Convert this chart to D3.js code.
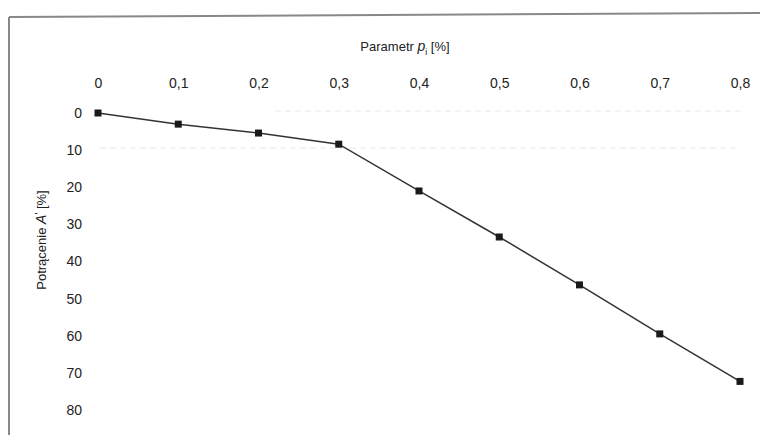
<!DOCTYPE html>
<html>
<head>
<meta charset="utf-8">
<script src="https://cdn.jsdelivr.net/npm/d3@7"></script>
<style>
	body { margin: 0; background: #fff; }
	text { font-family: "Liberation Sans", Arial, sans-serif; fill: #222; }
</style>
</head>
<body>
<svg id="chart"></svg>
<script>
	// values
	var param = [0, 0.1, 0.2, 0.3, 0.4, 0.5, 0.6, 0.7, 0.8];
	var potracenie = [0, 3.0, 5.4, 8.4, 21.0, 33.4, 46.3, 59.5, 72.3];
	var xTicks = [0, 0.1, 0.2, 0.3, 0.4, 0.5, 0.6, 0.7, 0.8];
	var yTicks = [0, 10, 20, 30, 40, 50, 60, 70, 80];

	var width = 760, height = 435;

	var svg = d3.select("#chart")
		.attr("width", width)
		.attr("height", height);

	var x = d3.scaleLinear().domain([0, 0.8]).range([98, 740]);
	var y = d3.scaleLinear().domain([0, 80]).range([113, 410]);

	// frame (scanned page border)
	svg.append("line")
		.attr("x1", 9).attr("y1", 17).attr("x2", 760).attr("y2", 13)
		.attr("stroke", "#888").attr("stroke-width", 2);
	svg.append("line")
		.attr("x1", 9).attr("y1", 17).attr("x2", 9).attr("y2", 435)
		.attr("stroke", "#888").attr("stroke-width", 2);

	// faint grid
	svg.append("g").selectAll("line")
		.data(yTicks.slice(0, 2))
		.enter().append("line")
		.attr("x1", function(d, i) { return i == 0 ? 275 : 100; })
		.attr("x2", 740)
		.attr("y1", function(d) { return y(d) - 2; })
		.attr("y2", function(d) { return y(d) - 2; })
		.attr("stroke", "#e8e8e8")
		.attr("stroke-dasharray", "6,4");

	// x axis on top, labels only
	var xAxis = d3.axisTop(x)
		.tickValues(xTicks)
		.tickSize(0)
		.tickPadding(0)
		.tickFormat(function(d) { return d3.format(".1f")(d).replace(".", ",").replace(/^0,0$/, "0"); });
	var gx = svg.append("g").attr("transform", "translate(0,88)").call(xAxis);
	gx.select(".domain").remove();
	gx.selectAll("text")
		.style("font-family", "Liberation Sans, Arial, sans-serif")
		.style("font-size", "14px")
		.style("fill", "#222");

	var yAxis = d3.axisLeft(y)
		.tickValues(yTicks)
		.tickSize(0)
		.tickPadding(0);
	var gy = svg.append("g").attr("transform", "translate(82,0)").call(yAxis);
	gy.select(".domain").remove();
	gy.selectAll("text")
		.style("font-family", "Liberation Sans, Arial, sans-serif")
		.style("font-size", "14px")
		.style("fill", "#222");

	// axis titles
	var tx = svg.append("text")
		.attr("x", 405).attr("y", 51)
		.attr("text-anchor", "middle")
		.style("font-size", "13px");
	tx.append("tspan").text("Parametr ");
	tx.append("tspan").text("p").style("font-style", "italic").style("font-size", "14px");
	tx.append("tspan").text("i").attr("dy", 4).style("font-size", "9px");
	tx.append("tspan").text(" [%]").attr("dy", -4);

	var ty = svg.append("text")
		.attr("transform", "translate(46,240) rotate(-90)")
		.attr("text-anchor", "middle")
		.style("font-size", "13px");
	ty.append("tspan").text("Potrącenie ");
	ty.append("tspan").text("A").style("font-style", "italic").style("font-size", "14px");
	ty.append("tspan").text("'").attr("dy", -3).style("font-size", "10px");
	ty.append("tspan").text(" [%]").attr("dy", 3);

	// series
	var pts = param.map(function(d, i) { return [d, potracenie[i]]; });
	var line = d3.line()
		.x(function(d) { return x(d[0]); })
		.y(function(d) { return y(d[1]); });

	svg.append("path")
		.datum(pts)
		.attr("d", line)
		.attr("fill", "none")
		.attr("stroke", "#333")
		.attr("stroke-width", 1.5);

	svg.append("g").selectAll("rect")
		.data(pts)
		.enter().append("rect")
		.attr("x", function(d) { return x(d[0]) - 3.5; })
		.attr("y", function(d) { return y(d[1]) - 3.5; })
		.attr("width", 7)
		.attr("height", 7)
		.attr("fill", "#1a1a1a");
</script>
</body>
</html>
